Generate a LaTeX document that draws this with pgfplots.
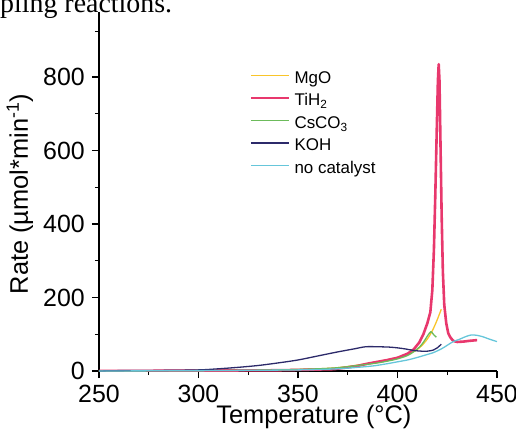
\documentclass[border=0pt]{standalone}
\usepackage{pgfplots}
\pgfplotsset{compat=1.18}
\usepackage{fontspec}
\setmainfont{Liberation Sans}
\newfontfamily\capfont{Liberation Serif}

\definecolor{mgo}{HTML}{F9C52A}
\definecolor{tih}{HTML}{E8386D}
\definecolor{csco}{HTML}{6CBB5B}
\definecolor{koh}{HTML}{2C2A6A}
\definecolor{nocat}{HTML}{66C6DA}

\begin{document}
\begin{tikzpicture}
\begin{axis}[
  scale only axis, width=398bp, height=359bp,
  xmin=250, xmax=450, ymin=0, ymax=977,
  axis lines*=left, axis line style={-, line width=1.2bp},
  tick align=outside, major tick length=7bp, minor tick length=4bp,
  tick style={black, line width=1.1bp},
  xtick={250,300,...,450}, minor xtick={275,325,...,425},
  ytick={0,200,...,800}, minor ytick={100,300,500,700,925},
  /pgf/number format/assume math mode=true,
  ticklabel style={font=\fontsize{25}{28}\selectfont},
  xticklabel style={inner sep=0pt, yshift=-7bp},
  yticklabel style={inner sep=0pt, xshift=-7bp},
  xlabel={Temperature (°C)},
  ylabel={Rate (µmol*min\textsuperscript{-1})},
  label style={font=\fontsize{25.5}{28}\selectfont},
  xlabel style={at={(axis description cs:0.540,-0.145)}, anchor=base, inner sep=0pt},
  ylabel style={at={(axis description cs:-0.199,0.493)}, anchor=center, inner sep=0pt},
  legend cell align=left,
  legend image code/.code={\draw[#1, line width=1.5bp] (0bp,4bp) -- (38bp,4bp);},
  legend style={at={(axis description cs:0.379,0.835)}, anchor=north west,
    draw=none, fill=none, inner sep=0pt, row sep=6bp,
    font=\fontsize{17}{20}\selectfont,
    nodes={inner sep=0pt, text height=12bp, text depth=4.5bp},
    /tikz/every odd column/.style={column sep=5bp}},
  every axis plot/.append style={no marks, line join=round},
]
% MgO
\addplot[mgo, line width=1.3bp, smooth] coordinates {
 (250,0) (300,1) (340,3) (360,6) (370,9) (380,16) (390,25) (396,32) (400,37)
 (405,45) (409,55) (412,68) (414,80) (416,95) (418,115) (420,140) (422,168)
};
\addlegendentry{MgO}
% TiH2
\addplot[tih, line width=2.6bp] coordinates {
 (250,0) (300,1) (340,2) (360,4) (368,5) (375,10) (380,14) (385,20) (390,25)
 (395,30) (400,36) (405,47) (408,58) (411,78) (413,100) (415,130) (416.5,160)
 (417.5,220) (418.3,330) (419,480) (419.7,650) (420.3,790) (420.7,835)
 (421.1,790) (421.6,620) (422.2,420) (422.8,270) (423.5,180) (424.5,130)
 (425.5,103) (426.5,92) (428,82) (430,79) (433,80) (436,82) (440,84)
};
\addlegendentry{TiH\textsubscript{2}}
% CsCO3
\addplot[csco, line width=1.3bp, smooth] coordinates {
 (250,0) (300,1) (340,3) (360,6) (370,9) (380,15) (390,22) (396,28) (400,33)
 (405,42) (408,52) (411,65) (413,78) (415,95) (416.8,107) (418,100) (419.5,92)
};
\addlegendentry{CsCO\textsubscript{3}}
% KOH
\addplot[koh, line width=1.3bp, smooth] coordinates {
 (250,0) (260,1) (280,1.5) (300,3) (310,6) (320,10) (330,15) (340,22) (350,30)
 (360,41) (370,52) (378,60) (384,66) (390,66) (396,65) (400,63) (404,60)
 (408,56) (412,54) (415,54) (418,57) (420,63) (422,73)
};
\addlegendentry{KOH}
% no catalyst
\addplot[nocat, line width=1.3bp, smooth] coordinates {
 (250,0) (300,1) (350,3) (370,6) (380,10) (388,14) (395,20) (400,25) (405,30)
 (410,37) (415,45) (418,50) (422,60) (425,70) (428,80) (431,86) (434,93)
 (437,98) (440,97) (443,93) (446,87) (450,80)
};
\addlegendentry{no catalyst}
\end{axis}
\node[anchor=base west, inner sep=0pt, font=\capfont\fontsize{28}{30}\selectfont]
  at (-99bp,358.3bp) {pling reactions.};
\pgfresetboundingbox
\path[use as bounding box] (-99bp,-63bp) rectangle (417bp,371bp);
\end{tikzpicture}
\end{document}
